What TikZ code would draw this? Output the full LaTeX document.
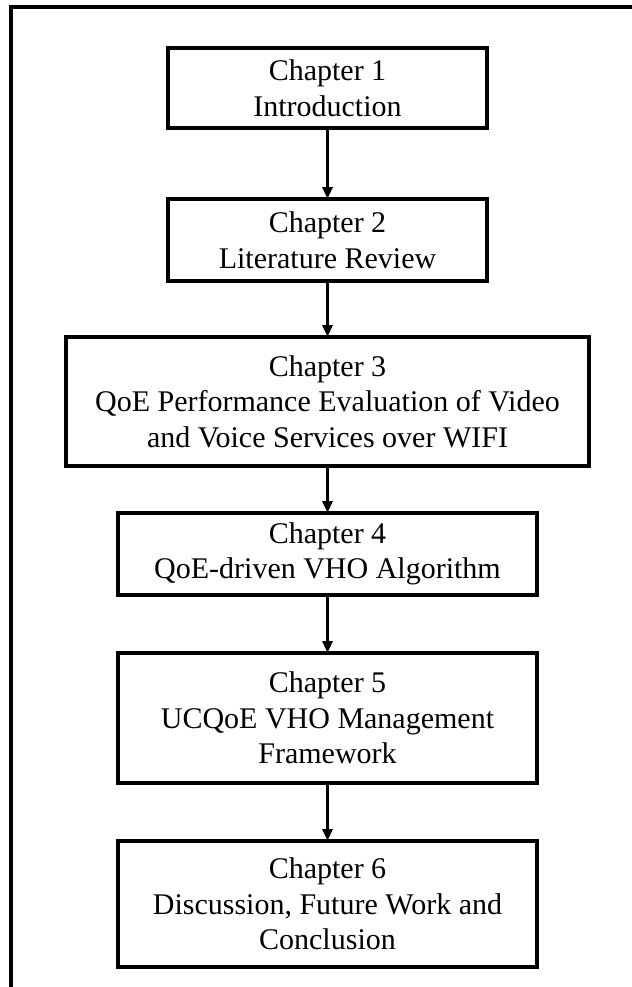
\documentclass[tikz,border=0pt]{standalone}
\usepackage{fontspec}
\setmainfont{Liberation Serif}
\usetikzlibrary{arrows.meta, positioning}
\newcommand\chapfont{\fontsize{15}{17.75}\selectfont}

\begin{document}
\begin{tikzpicture}[
      x=0.5pt, y=-0.5pt,
      box/.style={draw, line width=2pt, outer sep=0pt, inner sep=0pt, align=center, font=\chapfont},
      ar/.style={-{Triangle[length=6pt, width=5pt]}, line width=1.5pt}
    ]
    \useasboundingbox (0,0) rectangle (632,987);
    \coordinate (fb) at (11,987); \coordinate (fc) at (11,7); \coordinate (fr) at (632,7);
    \draw[line width=2pt] (fb) -- (fc) -- (fr);
    \node[box, minimum width=159.5pt, minimum height=40pt] (a) at (327.5,88) {Chapter 1\\Introduction};
    \node[box, minimum width=159.5pt, minimum height=41pt, below=35.5pt of a] (b) {Chapter 2\\Literature Review};
    \node[box, minimum width=261.5pt, minimum height=64.5pt, below=28pt of b] (c) {Chapter 3\\QoE Performance Evaluation of Video\\and Voice Services over WIFI};
    \node[box, minimum width=209.5pt, minimum height=41pt, below=23.5pt of c] (d) {Chapter 4\\QoE-driven VHO Algorithm};
    \node[box, minimum width=209.5pt, minimum height=65pt, below=29pt of d] (e) {Chapter 5\\UCQoE VHO Management\\Framework};
    \node[box, minimum width=209.5pt, minimum height=63pt, below=29pt of e] (f) {Chapter 6\\Discussion, Future Work and\\Conclusion};
    \draw[ar] (a) -- (b); \draw[ar] (b) -- (c); \draw[ar] (c) -- (d); \draw[ar] (d) -- (e); \draw[ar] (e) -- (f);
  \end{tikzpicture}
\end{document}
